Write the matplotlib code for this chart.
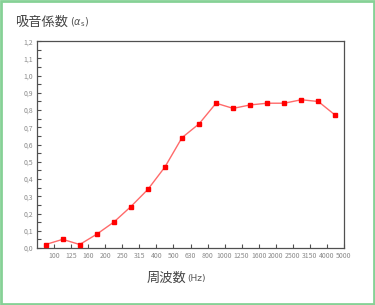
import matplotlib.pyplot as plt
from matplotlib.patches import Rectangle

freqs = ["100", "125", "160", "200", "250", "315", "400", "500", "630",
         "800", "1000", "1250", "1600", "2000", "2500", "3150", "4000", "5000"]
alpha = [0.02, 0.05, 0.02, 0.08, 0.15, 0.24, 0.34, 0.47, 0.64,
         0.72, 0.84, 0.81, 0.83, 0.84, 0.84, 0.86, 0.85, 0.77]
yticks = [i / 10 for i in range(13)]
ylabels = [f"{v:.1f}".replace(".", ",") for v in yticks]

plt.rcParams['font.family'] = ['Noto Sans CJK JP', 'DejaVu Sans']

fig = plt.figure(figsize=(3.75, 3.05), dpi=100)
ax = fig.add_axes([0.099, 0.187, 0.818, 0.678])

x = list(range(len(alpha)))
ax.plot(x, alpha, color="#ff6a6a", lw=1.0, marker="s", ms=3.3,
        mfc="#ff0000", mec="#ff0000", zorder=3)

ax.set_xlim(-0.5, len(alpha) - 0.5)
ax.set_ylim(0, 1.2)
ax.set_xticks([i + 0.5 for i in x])
ax.set_xticklabels(freqs)
ax.set_yticks(yticks)
ax.set_yticklabels(ylabels)
ax.set_yticks([i / 20 for i in range(1, 24, 2)], minor=True)

ax.tick_params(axis="both", direction="in", length=3, width=0.8,
               color="#505050", labelsize=5, labelcolor="#8a8a8a", pad=3)
ax.tick_params(axis="y", which="minor", direction="in", length=3,
               width=0.8, color="#505050")
for s in ax.spines.values():
    s.set_color("#505050")
    s.set_linewidth(0.9)

fig.text(0.04, 0.928, "吸音係数", fontsize=9.5, color="#444444", va="center")
fig.text(0.187, 0.926, r"($\alpha_{\mathrm{s}}$)", fontsize=7, color="#555555",
         va="center", family="DejaVu Sans")
fig.text(0.392, 0.088, "周波数", fontsize=9.5, color="#444444", va="center")
fig.text(0.498, 0.088, "(Hz)", fontsize=6.5, color="#555555", va="center",
         family="DejaVu Sans")

fig.patches.append(Rectangle((0.003, 0.004), 0.994, 0.992, transform=fig.transFigure,
                             fill=False, edgecolor="#86d196", lw=2))

fig.savefig("out.png", dpi=100)
